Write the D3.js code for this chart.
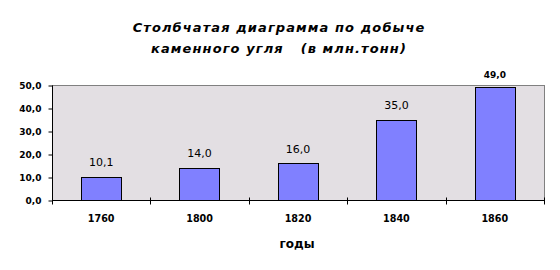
<!DOCTYPE html>
<html>
<head>
<meta charset="utf-8">
<script src="https://cdn.jsdelivr.net/npm/d3@7"></script>
<style>
  body { margin: 0; background: #fff; }
  text { font-family: "DejaVu Sans", Verdana, sans-serif; fill: #000; white-space: pre; }
</style>
</head>
<body>
<div id="chart"></div>
<script>
// data
var years = ["1760", "1800", "1820", "1840", "1860"];
var coal = [10.1, 14.0, 16.0, 35.0, 49.0];
var yTicks = [0, 10, 20, 30, 40, 50];
var titleLines = ["Столбчатая диаграмма по добыче", "каменного угля   (в млн.тонн)"];
var xTitle = "годы";

var width = 560, height = 270;
var margin = {top: 85, right: 16, bottom: 70, left: 52};
var fmt = function(v) { return v.toFixed(1).replace(".", ","); };

var svg = d3.select("#chart").append("svg")
    .attr("width", width)
    .attr("height", height);

var iw = width - margin.left - margin.right;
var ih = height - margin.top - margin.bottom;

var x = d3.scaleBand().domain(years).range([0, iw]).paddingInner(0.59).paddingOuter(0.295);
var y = d3.scaleLinear().domain([0, 50]).range([ih, 0]);

var g = svg.append("g").attr("transform", "translate(" + margin.left + "," + margin.top + ")");

// plot background with grey frame
g.append("rect")
    .attr("x", 0.5).attr("y", 0.5)
    .attr("width", iw).attr("height", ih)
    .style("fill", "#e3dfe3")
    .style("stroke", "#808080")
    .style("stroke-width", 1);

// bars
g.selectAll(".bar")
    .data(coal)
    .enter()
    .append("rect")
    .attr("class", "bar")
    .attr("x", function(d, i) { return Math.round(x(years[i])) + 0.5; })
    .attr("y", function(d) { return Math.round(y(d)) + 0.5; })
    .attr("width", Math.round(x.bandwidth()))
    .attr("height", function(d) { return ih - Math.round(y(d)); })
    .style("fill", "#8080ff")
    .style("stroke", "#000")
    .style("stroke-width", 1);

// value labels (the one sticking out above the plot is drawn small and bold)
var outside = function(d) { return y(d) - 18 < 0; };
g.selectAll(".val")
    .data(coal)
    .enter()
    .append("text")
    .attr("class", "val")
    .attr("x", function(d, i) { return x(years[i]) + x.bandwidth() / 2; })
    .attr("y", function(d) { return outside(d) ? y(d) - 9 : y(d) - 10.5; })
    .attr("text-anchor", "middle")
    .style("font-size", function(d) { return outside(d) ? "9px" : "11px"; })
    .style("font-weight", function(d) { return outside(d) ? "bold" : "normal"; })
    .text(fmt);

// y axis
var yAxis = d3.axisLeft(y).tickValues(yTicks).tickFormat(fmt).tickSize(4).tickPadding(7);
var ya = g.append("g").attr("transform", "translate(0.5,0.5)").call(yAxis);
ya.select(".domain").attr("d", "M0," + ih + "V0").style("stroke", "#000");
ya.selectAll("text").style("font-size", "9px").style("font-weight", "bold");

// x axis: line with ticks between categories
var xa = g.append("g").attr("transform", "translate(0," + (ih + 0.5) + ")");
xa.append("line").attr("x1", 0).attr("x2", iw + 1).style("stroke", "#000");
var step = x.step();
d3.range(years.length + 1).forEach(function(i) {
    var px = Math.round(i * step) + 0.5;
    xa.append("line")
        .attr("x1", px).attr("x2", px)
        .attr("y1", -3).attr("y2", 4)
        .style("stroke", "#000");
});
xa.selectAll(".cat")
    .data(years)
    .enter()
    .append("text")
    .attr("class", "cat")
    .attr("x", function(d) { return x(d) + x.bandwidth() / 2; })
    .attr("y", 21)
    .attr("text-anchor", "middle")
    .style("font-size", "9.6px")
    .style("font-weight", "bold")
    .text(function(d) { return d; });

// axis title
svg.append("text")
    .attr("x", 297)
    .attr("y", 248)
    .attr("text-anchor", "middle")
    .style("font-size", "12px")
    .style("font-weight", "bold")
    .text(xTitle);

// chart title
svg.selectAll(".title")
    .data(titleLines)
    .enter()
    .append("text")
    .attr("class", "title")
    .attr("x", 279)
    .attr("y", function(d, i) { return 32 + i * 21; })
    .attr("text-anchor", "middle")
    .style("font-size", "13px")
    .style("font-weight", "bold")
    .style("font-style", "italic")
    .style("letter-spacing", "1.1px")
    .text(function(d) { return d; });
</script>
</body>
</html>
